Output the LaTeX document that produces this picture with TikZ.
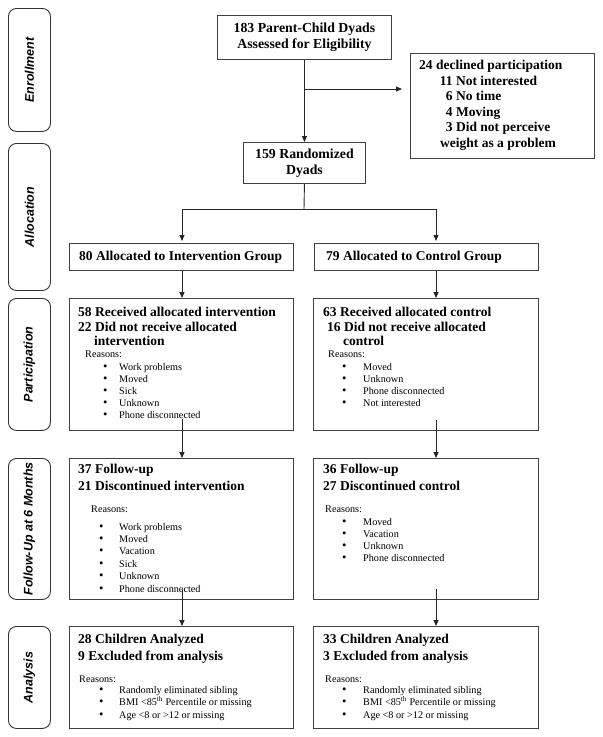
\documentclass[tikz,border=0pt]{standalone}
\usepackage{fontspec}
\setmainfont{Liberation Serif}
\newfontfamily\labfont{Liberation Sans}
\usetikzlibrary{arrows.meta,calc}
\begin{document}
\begin{tikzpicture}[x=1pt,y=-1pt,
  frame/.style={draw=black!75,line width=0.9pt,inner sep=0pt,anchor=north west},
  phase/.style={draw=black!80,line width=0.9pt,rounded corners=8pt,minimum width=42pt,inner sep=0pt,anchor=north west},
  phasetext/.style={font=\labfont\bfseries\itshape\fontsize{12.5}{14}\selectfont,rotate=90,inner sep=0pt},
  bt/.style={font=\bfseries\fontsize{13.5}{15.5}\selectfont,inner sep=0pt,anchor=base west},
  ct/.style={font=\bfseries\fontsize{13.8}{16}\selectfont,align=center},
  st/.style={font=\fontsize{10.2}{12}\selectfont,inner sep=0pt,anchor=base west},
  bul/.style={font=\fontsize{12.5}{12}\selectfont,inner sep=0pt,anchor=base west},
  conn/.style={line width=0.9pt,draw=black!85},
  arr/.style={conn,-{Triangle[length=6pt,width=5pt]}}
]
\useasboundingbox (0,0) rectangle (603,737);

% phase labels
\node[phase,minimum height=123pt] (ph1) at (8,8) {};
\node[phase,minimum height=147pt] (ph2) at (8,143) {};
\node[phase,minimum height=132pt] (ph3) at (8,298) {};
\node[phase,minimum height=141pt] (ph4) at (8,458) {};
\node[phase,minimum height=102pt] (ph5) at (8,626) {};
\node[phasetext] (ph1t) at (ph1.center) {Enrollment};
\node[phasetext] (ph2t) at (ph2.center) {Allocation};
\node[phasetext] (ph3t) at (ph3.center) {Participation};
\node[phasetext] (ph4t) at (ph4.center) {Follow-Up at 6 Months};
\node[phasetext] (ph5t) at (ph5.center) {Analysis};

% main boxes
\node[frame,ct,minimum width=174pt,minimum height=44pt] (elig) at (217,15) {183 Parent-Child Dyads\\Assessed for Eligibility};
\node[frame,minimum width=184pt,minimum height=105pt] (decl) at (410,53) {};
\node[frame,ct,minimum width=122pt,minimum height=41pt] (rand) at (243,142) {159 Randomized\\Dyads};
\node[frame,minimum width=224pt,minimum height=27pt] (aI) at (69,243) {};
\node[frame,minimum width=224pt,minimum height=27pt] (aC) at (314,243) {};
\node[frame,minimum width=224pt,minimum height=132pt] (pL) at (69,298) {};
\node[frame,minimum width=225pt,minimum height=132pt] (pR) at (313,298) {};
\node[frame,minimum width=224pt,minimum height=141pt] (fL) at (69,458) {};
\node[frame,minimum width=225pt,minimum height=141pt] (fR) at (313,458) {};
\node[frame,minimum width=224pt,minimum height=102pt] (nL) at (69,626) {};
\node[frame,minimum width=225pt,minimum height=102pt] (nR) at (313,626) {};

% declined text
\node[bt] (d0) at (419,69) {24 declined participation};
\node[bt] (d1) at (439,85) {\makebox[13.5pt][r]{11} Not interested};
\node[bt] (d2) at (439,100) {\makebox[13.5pt][r]{6} No time};
\node[bt] (d3) at (439,116) {\makebox[13.5pt][r]{4} Moving};
\node[bt] (d4) at (439,131) {\makebox[13.5pt][r]{3} Did not perceive};
\node[bt] (d5) at (440,147) {weight as a problem};

% allocation text
\node[bt] (aIt) at (79,260) {80 Allocated to Intervention Group};
\node[bt] (aCt) at (326,260) {79 Allocated to Control Group};

% participation
\node[bt] (pL1) at (78,316) {58 Received allocated intervention};
\node[bt] (pL2) at (78,331) {22 Did not receive allocated};
\node[bt] (pL3) at (94,345) {intervention};
\node[st] (pLr) at (85,357) {Reasons:};
\foreach \t [count=\i from 0] in {Work problems,Moved,Sick,Unknown,Phone disconnected}{
  \node[bul] (pLb\i) at (103,370+12.1*\i) {\textbullet};
  \node[st] (pLi\i) at (119,370+12.1*\i) {\t};}
\node[bt] (pR1) at (323,316) {63 Received allocated control};
\node[bt] (pR2) at (327,331) {16 Did not receive allocated};
\node[bt] (pR3) at (343,345) {control};
\node[st] (pRr) at (328,357) {Reasons:};
\foreach \t [count=\i from 0] in {Moved,Unknown,Phone disconnected,Not interested}{
  \node[bul] (pRb\i) at (342,370+12*\i) {\textbullet};
  \node[st] (pRi\i) at (363,370+12*\i) {\t};}

% follow-up
\node[bt] (fL1) at (78,473) {37 Follow-up};
\node[bt] (fL2) at (78,490) {21 Discontinued intervention};
\node[st] (fLr) at (91,512) {Reasons:};
\foreach \t [count=\i from 0] in {Work problems,Moved,Vacation,Sick,Unknown,Phone disconnected}{
  \node[bul] (fLb\i) at (99,530+12.4*\i) {\textbullet};
  \node[st] (fLi\i) at (119,530+12.4*\i) {\t};}
\node[bt] (fR1) at (323,473) {36 Follow-up};
\node[bt] (fR2) at (323,490) {27 Discontinued control};
\node[st] (fRr) at (325,512) {Reasons:};
\foreach \t [count=\i from 0] in {Moved,Vacation,Unknown,Phone disconnected}{
  \node[bul] (fRb\i) at (342,525+12.3*\i) {\textbullet};
  \node[st] (fRi\i) at (363,525+12.3*\i) {\t};}

% analysis
\node[bt] (nL1) at (78,643) {28 Children Analyzed};
\node[bt] (nL2) at (78,660) {9 Excluded from analysis};
\node[st] (nLr) at (79,682) {Reasons:};
\foreach \t [count=\i from 0] in {Randomly eliminated sibling,BMI <85\textsuperscript{th} Percentile or missing,Age <8 or >12 or missing}{
  \node[bul] (nLb\i) at (99,693+12.5*\i) {\textbullet};
  \node[st] (nLi\i) at (119,693+12.5*\i) {\t};}
\node[bt] (nR1) at (323,643) {33 Children Analyzed};
\node[bt] (nR2) at (323,660) {3 Excluded from analysis};
\node[st] (nRr) at (325,682) {Reasons:};
\foreach \t [count=\i from 0] in {Randomly eliminated sibling,BMI <85\textsuperscript{th} Percentile or missing,Age <8 or >12 or missing}{
  \node[bul] (nRb\i) at (342,693+12.5*\i) {\textbullet};
  \node[st] (nRi\i) at (363,693+12.5*\i) {\t};}

% connectors
\coordinate (colL) at (182,0);
\coordinate (colR) at (436,0);
\coordinate (br1) at (304,89);
\coordinate (split) at (304,209);
\draw[arr] (elig.south) -- (rand.north);
\draw[arr,shorten >=8pt] (br1) -- (decl.west |- br1);
\draw[conn] (rand.south) -- (split);
\draw[conn] (colL |- split) -- (colR |- split);
\draw[arr,shorten >=2pt] (colL |- split) -- (aI.north -| colL);
\draw[arr,shorten >=2pt] (colR |- split) -- (aC.north -| colR);
\draw[arr] (aI.south -| colL) -- (pL.north -| colL);
\draw[arr] (aC.south -| colR) -- (pR.north -| colR);
\draw[arr] ($(pL.south -| colL)+(0,-12)$) -- (fL.north -| colL);
\draw[arr] ($(pR.south -| colR)+(0,-11)$) -- (fR.north -| colR);
\draw[arr] ($(fL.south -| colL)+(0,-10)$) -- (nL.north -| colL);
\draw[arr] ($(fR.south -| colR)+(0,-11)$) -- (nR.north -| colR);
\end{tikzpicture}
\end{document}
